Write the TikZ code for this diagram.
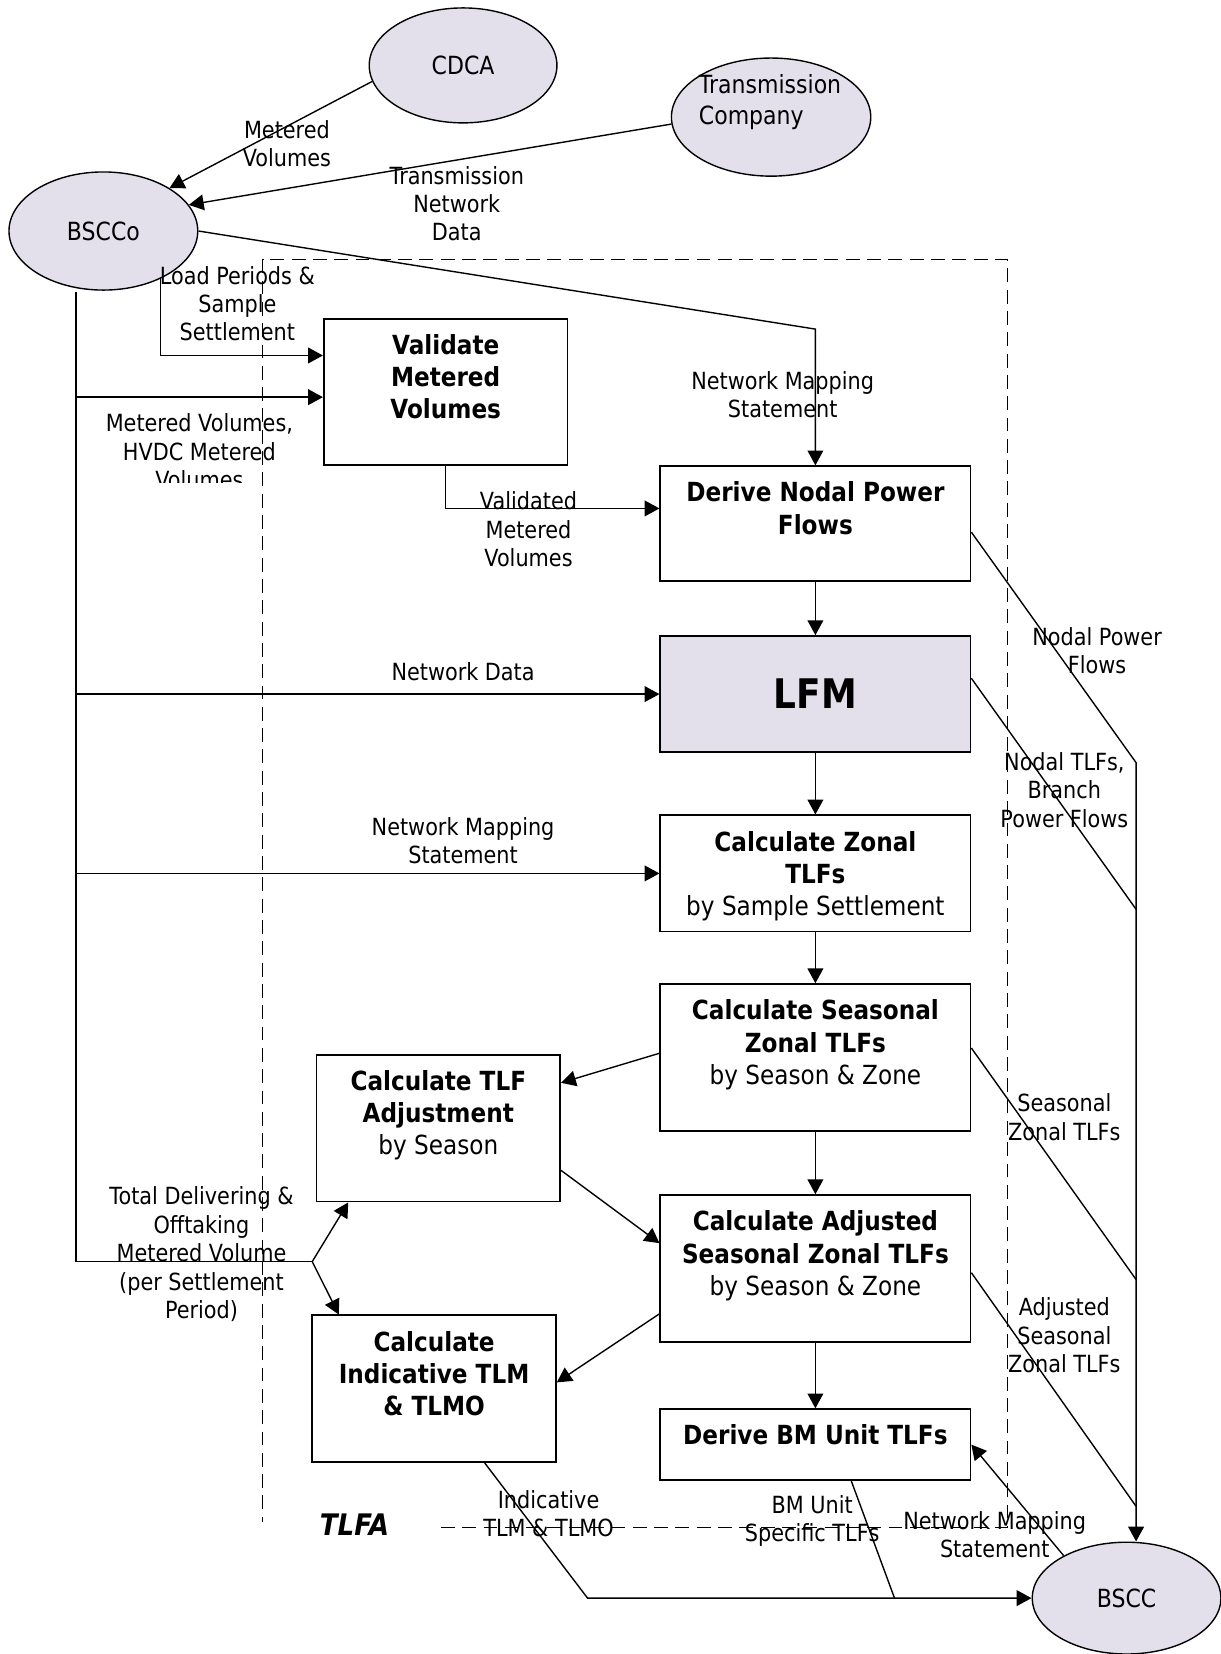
\documentclass[tikz,border=0pt]{standalone}
\usepackage{fontspec}
\setmainfont{DejaVu Sans}[FakeStretch=0.88]
\usetikzlibrary{arrows.meta,positioning,calc,shapes.geometric}
\definecolor{entfill}{HTML}{E3DFEB}

\begin{document}
\begin{tikzpicture}[x=0.02cm,y=-0.02cm,line width=0.75pt,
    >={Triangle[length=8pt,width=8.5pt]},
    ent/.style={ellipse,draw,fill=entfill,inner sep=0pt,align=center,
                font=\fontsize{13.5}{16.5}\selectfont},
    proc/.style={rectangle,draw,line width=1pt,minimum width=5.88cm,inner sep=0pt},
    proctext/.style={align=center,inner sep=0pt,font=\bfseries\fontsize{14.2}{17.4}\selectfont},
    lbl/.style={align=center,inner sep=0pt,font=\fontsize{12.75}{15.3}\selectfont},
    tlfaline/.style={line width=0.9pt,dash pattern=on 7.5pt off 4pt}]
\useasboundingbox (0,0) rectangle (1157,1568);

% TLFA boundary
\draw[tlfaline] (418,1448) -- (955,1448) -- (955,246) -- (249,246) -- (249,1443);
\node[font=\bfseries\itshape\fontsize{16}{19}\selectfont] (tlfa) at (336,1445) {TLFA};

% external parties
\node[ent,minimum width=3.56cm,minimum height=2.18cm] (cdca) at (439,62) {CDCA};
\node[ent,minimum width=3.78cm,minimum height=2.24cm] (tc) at (731,111) {};
\node[align=left,inner sep=0pt,font=\fontsize{13.5}{17}\selectfont] (tctext) at (730,97) {Transmission\\Company};
\node[ent,minimum width=3.58cm,minimum height=2.24cm] (bscco) at (98,219) {BSCCo};
\node[ent,minimum width=3.58cm,minimum height=2.12cm] (bscc) at (1068,1515) {BSCC};

% processes
\node[proc,minimum width=4.62cm,minimum height=2.78cm] (vmv) at (422.5,371.5) {};
\node[proctext,below=0.3cm of vmv.north] (vmvtext) {Validate\\Metered\\Volumes};
\node[proc,minimum height=2.18cm] (dnpf) at (773,496.5) {};
\node[proctext,below=0.3cm of dnpf.north] (dnpftext) {Derive Nodal Power\\Flows};
\node[proc,minimum height=2.2cm,fill=entfill,font=\bfseries\fontsize{22}{26}\selectfont] (lfm) at (773,658) {LFM};
\node[proc,minimum height=2.2cm] (czt) at (773,828) {};
\node[proctext,below=0.3cm of czt.north] (czttext) {Calculate Zonal\\TLFs\\\mdseries by Sample Settlement};
\node[proc,minimum height=2.78cm] (cszt) at (773,1002.5) {};
\node[proctext,below=0.3cm of cszt.north] (cszttext) {Calculate Seasonal\\Zonal TLFs\\\mdseries by Season \& Zone};
\node[proc,minimum height=2.78cm] (caszt) at (773,1202.5) {};
\node[proctext,below=0.3cm of caszt.north] (caszttext) {Calculate Adjusted\\Seasonal Zonal TLFs\\\mdseries by Season \& Zone};
\node[proc,minimum height=1.34cm] (dbm) at (773,1369.5) {};
\node[proctext,below=0.3cm of dbm.north] (dbmtext) {Derive BM Unit TLFs};
\node[proc,minimum width=4.62cm,minimum height=2.78cm] (ctlfa) at (415.5,1069.5) {};
\node[proctext,below=0.3cm of ctlfa.north] (ctlfatext) {Calculate TLF\\Adjustment\\\mdseries by Season};
\node[proc,minimum width=4.62cm,minimum height=2.78cm] (citlm) at (411.5,1316.5) {};
\node[proctext,below=0.3cm of citlm.north] (citlmtext) {Calculate\\Indicative TLM\\\& TLMO};

% bends
\coordinate (trunktop) at (72,277);
\coordinate (trunkbot) at (72,1196);
\coordinate (split) at (296,1196);
\coordinate (nmsbend) at (773,312);
\coordinate (lpbend) at (152,337);
\coordinate (vvbend) at (422.5,482);
\coordinate (rbend) at (1077,723);
\coordinate (itbend) at (557,1515);
\coordinate (bmjoin) at (848,1515);

% flows into BSCCo
\draw[->] (cdca.190) -- (bscco.33);
\draw[->] (tc.184) -- (bscco.17);

% flows out of BSCCo
\draw[->] (bscco.east) -- (nmsbend) -- (dnpf.north);
\draw[->] (lpbend |- bscco.320) -- (lpbend) -- (lpbend -| vmv.west);
\draw (trunktop) -- (trunkbot) -- (split);
\draw[->] ($(trunktop |- vmv.west)+(0,5)$) -- ($(vmv.west)+(0,5)$);
\draw[->] (trunktop |- lfm.west) -- (lfm.west);
\draw[->] (trunktop |- czt.west) -- (czt.west);
\draw[->] (split) -- ($(ctlfa.south west)+(31,0)$);
\draw[->] (split) -- ($(citlm.north west)+(26,0)$);

% process chain
\draw[->] (vmv.south) -- (vvbend) -- (vvbend -| dnpf.west);
\draw[->] (dnpf) -- (lfm);
\draw[->] (lfm) -- (czt);
\draw[->] (czt) -- (cszt);
\draw[->] (cszt) -- (caszt);
\draw[->] (caszt) -- (dbm);
\draw[->] ($(cszt.west)+(0,-4)$) -- ($(ctlfa.east)+(0,-43)$);
\draw[->] ($(ctlfa.east)+(0,40)$) -- ($(caszt.west)+(0,-24)$);
\draw[->] ($(caszt.west)+(0,43)$) -- ($(citlm.east)+(0,-6)$);

% flows to BSCC
\draw[->] ($(dnpf.east)+(0,8)$) -- (rbend) -- (rbend |- bscc.north);
\draw ($(lfm.east)+(0,-15)$) -- ($(rbend)+(0,139)$);
\draw ($(cszt.east)+(0,-9)$) -- ($(rbend)+(0,490)$);
\draw ($(caszt.east)+(0,4)$) -- ($(rbend)+(0,705)$);
\draw[->] (bscc.146) -- (dbm.east);
\draw[->] ($(citlm.south)+(48,0)$) -- (itbend) -- (bscc.west);
\draw ($(dbm.south)+(34,0)$) -- (bmjoin);

% labels
\node[lbl] (mvlbl) at (272,136) {Metered\\Volumes};
\node[lbl] (tndlbl) at (433,193) {Transmission\\Network\\Data};
\node[lbl] (nmslbl) at (742,374) {Network Mapping\\Statement};
\node[lbl] (lplbl) at (225,288) {Load Periods \&\\Sample\\Settlement};
\begin{scope}
\clip (0,380) rectangle (300,457);
\node[lbl] (mvhlbl) at (189,428) {Metered Volumes,\\HVDC Metered\\Volumes};
\end{scope}
\node[lbl] (ndlbl) at (439,637) {Network Data};
\node[lbl] (nms2lbl) at (439,797) {Network Mapping\\Statement};
\node[lbl] (tdlbl) at (191,1189) {Total Delivering \&\\Offtaking\\Metered Volume\\(per Settlement\\Period)};
\node[lbl] (vvlbl) at (501,502) {Validated\\Metered\\Volumes};
\node[lbl] (npflbl) at (1040,617) {Nodal Power\\Flows};
\node[lbl] (ntlbl) at (1009,749) {Nodal TLFs,\\Branch\\Power Flows};
\node[lbl] (szlbl) at (1009,1059) {Seasonal\\Zonal TLFs};
\node[lbl] (aszlbl) at (1009,1266) {Adjusted\\Seasonal\\Zonal TLFs};
\node[lbl] (nms3lbl) at (943,1455) {Network Mapping\\Statement};
\node[lbl] (itlbl) at (520,1435) {Indicative\\TLM \& TLMO};
\node[lbl] (bmlbl) at (770,1442) {BM Unit\\Specific TLFs};
\end{tikzpicture}
\end{document}
